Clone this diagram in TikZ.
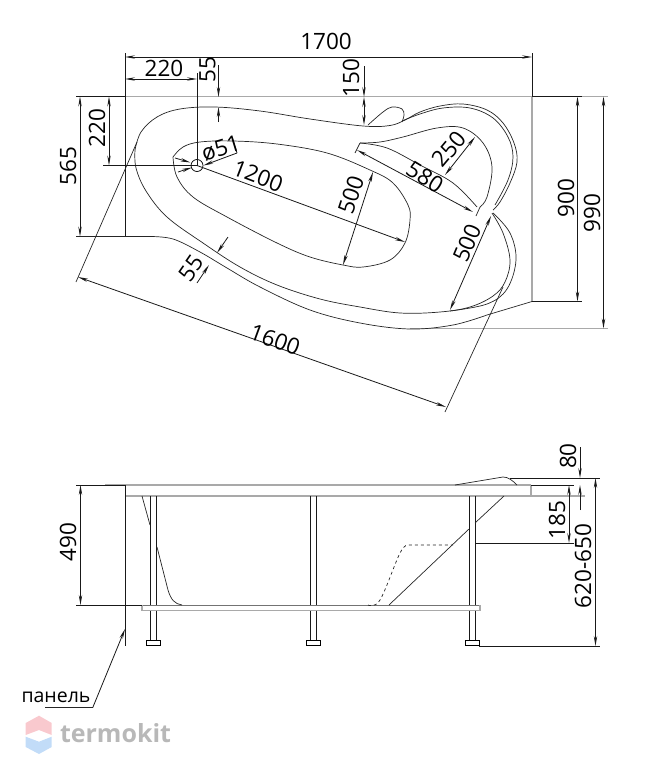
\documentclass[tikz,border=0pt]{standalone}
\usepackage{fontspec}
\setmainfont{Open Sans}
\usetikzlibrary{arrows.meta}
\definecolor{rimgray}{HTML}{A9A9A9}
\definecolor{markgray}{HTML}{B8B8B8}
\definecolor{logored}{HTML}{F9C9CE}
\definecolor{logoblue}{HTML}{C2DCF8}
\tikzset{
  contour/.style={line width=0.7pt, black!85},
  rim/.style={line width=1.5pt, rimgray},
  extline/.style={line width=0.8pt, black!90},
  dimline/.style={line width=0.8pt, black!90, {Stealth[length=10pt,width=3.4pt]}-{Stealth[length=10pt,width=3.4pt]}},
  dimend/.style={line width=0.8pt, black!90, -{Stealth[length=10pt,width=3.4pt]}},
  dimlabel/.style={inner sep=0pt, font=\fontsize{22.5}{22.5}\selectfont},
  smoothline/.style={smooth, tension=0.6}
}
\begin{document}
\begin{tikzpicture}[x=1pt, y=-1pt]
  \useasboundingbox (0,0) rectangle (647,779);

  % Plan: rim and frame
  \draw[rim] (125,96.5) -- (608,96.5);
  \draw[rim] (410,328.5) -- (608,328.5);
  \draw[rim] (532,96.5) -- (532,301.5);
  \draw[extline] (125,53) -- (125,236.5);
  \draw[extline] (532,53) -- (532,96.5);

  % Plan: outer contour
  \draw[contour] (76,236.5) -- (150,236.5) plot[smoothline] coordinates {(150,236.5) (173,239) (200,252) (227,268) (260,287) (310,310) (360,323) (410,329) (453,325) (487,315)} -- (532,301.5);

  % Plan: bath rim
  \draw[contour] plot[smoothline] coordinates {(135,150) (141,132) (157,117) (180,109) (215,107) (260,111) (310,119) (363,126) (390,125.5) (405,120) (420,112) (440,106) (463,104) (487,110) (503,123) (514,143) (517,162) (510,183) (500,202) (493,210)};
  \draw[contour] plot[smoothline] coordinates {(402,121) (420,114) (443,108) (470,108) (493,118) (508,137) (513,157) (508,180) (495,205)};
  \draw[contour] plot[smoothline] coordinates {(135,150) (136,168) (146,191) (167,217) (203,243) (240,267) (277,285) (320,299) (360,307) (400,313) (440,312) (470,307) (493,296) (505,282) (510,260) (503,233) (492,213)};
  \draw[contour] plot[smoothline] coordinates {(450,311) (487,304) (507,289) (516,260) (510,233) (493,213)};
  \draw[contour] plot[smoothline] coordinates {(368,125) (383,112) (392,107) (402,109) (404,115) (402,122)};

  % Plan: wells
  \draw[contour] plot[smoothline] coordinates {(173,157) (183,147) (200,142) (233,141) (277,144) (327,153) (370,170) (393,183) (408,205) (410,220) (405,243) (390,260) (363,267) (343,265) (310,257) (277,243) (227,217) (193,197) (177,177) (173,157)};
  \draw[contour] plot[smoothline] coordinates {(480,207) (487,197) (492,167) (483,143) (463,128) (437,128) (403,137) (380,142) (360,143)};
  \draw[contour] plot[smoothline] coordinates {(360,143) (387,148) (420,165) (453,183) (477,207)};
  \draw[contour] (480,207) -- (476,216);
  \draw[contour] (360,143) -- (355,153);

  % Plan: drain
  \node[draw, circle, line width=0.7pt, inner sep=0pt, minimum size=12pt] (drain) at (197,165.5) {};

  % Plan: dimensions
  \coordinate (w1) at (125,57); \coordinate (w2) at (532,57);
  \draw[dimline] (w1) -- (w2);
  \node[dimlabel] (lab1700) at (326,41) {1700};
  \coordinate (a1) at (125,79); \coordinate (a2) at (197,79);
  \draw[dimline] (a1) -- (a2);
  \node[dimlabel] (lab220a) at (164,68.5) {220};
  \coordinate (a3) at (197,73);
  \draw[extline] (a3) -- (drain.center);
  \coordinate (b0) at (103,165.5);
  \draw[extline] (b0) -- (drain.center);
  \coordinate (b1) at (109,96.5); \coordinate (b2) at (109,165.5);
  \draw[dimline] (b1) -- (b2);
  \node[dimlabel, rotate=90] (lab220b) at (97,128) {220};
  \coordinate (c0) at (76,96.5); \coordinate (c1) at (125,96.5);
  \draw[extline] (c0) -- (c1);
  \coordinate (c2) at (80,96.5); \coordinate (c3) at (80,236.5);
  \draw[dimline] (c2) -- (c3);
  \node[dimlabel, rotate=90] (lab565) at (68,166) {565};

  % 55 and 150 from the top edge
  \coordinate (d0) at (218.5,65); \coordinate (d1) at (218.5,97); \coordinate (d2) at (218.5,122); \coordinate (d3) at (218.5,107);
  \draw[dimend] (d0) -- (d1);
  \draw[dimend] (d2) -- (d3);
  \node[dimlabel, rotate=90] (lab55a) at (207.5,70) {55};
  \coordinate (e0) at (364,66); \coordinate (e1) at (364,97); \coordinate (e2) at (364,125);
  \draw[dimend] (e0) -- (e1);
  \draw[dimline] (e1) -- (e2);
  \node[dimlabel, rotate=90] (lab150) at (351,78) {150};

  % Diameter
  \coordinate (f0) at (237,153); \coordinate (f1) at (232,137); \coordinate (f2) at (175,158); \coordinate (f3) at (178,172); \coordinate (f4) at (190.5,162.5); \coordinate (f5) at (192,167.5);
  \draw[extline] (f1) -- (f0);
  \draw[dimend] (f0) -- (drain.east);
  \draw[dimend] (f2) -- (f4);
  \draw[dimend] (f3) -- (f5);
  \node[dimlabel, rotate=17] (lab51) at (221,148.5) {ø51};

  % Long axis
  \coordinate (g1) at (405,242);
  \draw[dimend] (drain.center) -- (g1);
  \node[dimlabel, rotate=-21] (lab1200) at (258,176) {1200};
  \coordinate (h1) at (373,172); \coordinate (h2) at (343,265);
  \draw[dimline] (h1) -- (h2);
  \node[dimlabel, rotate=72] (lab500a) at (351,195) {500};
  \coordinate (i1) at (475,137); \coordinate (i2) at (445,175);
  \draw[dimline] (i1) -- (i2);
  \node[dimlabel, rotate=50] (lab250) at (449,149) {250};
  \coordinate (j1) at (357,150); \coordinate (j2) at (473,212);
  \draw[dimline] (j1) -- (j2);
  \node[dimlabel, rotate=-32] (lab580) at (425,177) {580};
  \coordinate (k1) at (491,216); \coordinate (k2) at (450,310);
  \draw[dimline] (k1) -- (k2);
  \node[dimlabel, rotate=67] (lab500b) at (467,243) {500};
  \coordinate (m1) at (197,283); \coordinate (m2) at (209,265); \coordinate (m3) at (228,237); \coordinate (m4) at (217,253);
  \draw[dimend] (m1) -- (m2);
  \draw[dimend] (m3) -- (m4);
  \node[dimlabel, rotate=55] (lab55b) at (191,268) {55};

  % Diagonal
  \coordinate (n1) at (137,142); \coordinate (n2) at (76,282); \coordinate (n3) at (503,287); \coordinate (n4) at (445,412);
  \draw[contour] (n1) -- (n2);
  \draw[contour] (n3) -- (n4);
  \coordinate (n5) at (78,277); \coordinate (n6) at (446,407);
  \draw[dimline] (n5) -- (n6);
  \node[dimlabel, rotate=-20] (lab1600) at (275,340) {1600};

  % Right side of the plan
  \coordinate (p0) at (532,96.5); \coordinate (p1) at (582,96.5); \coordinate (p2) at (532,301.5); \coordinate (p3) at (582,301.5);
  \draw[extline] (p0) -- (p1);
  \draw[extline] (p2) -- (p3);
  \coordinate (q1) at (577.5,96.5); \coordinate (q2) at (577.5,301.5);
  \draw[dimline] (q1) -- (q2);
  \node[dimlabel, rotate=90] (lab900) at (566,198) {900};
  \coordinate (q3) at (603.5,96.5); \coordinate (q4) at (603.5,328.5);
  \draw[dimline] (q3) -- (q4);
  \node[dimlabel, rotate=90] (lab990) at (592,213) {990};

  % Elevation: rims
  \draw[rim] (105,485) -- (531,485);
  \draw[rim] (125,496) -- (585,496);
  \draw[rim] (531,485) -- (531,496);
  \draw[line width=1pt, black!55] (142,605) -- (480,605);
  \draw[rim, line width=1.2pt] (142,605) -- (142,610.5) -- (480,610.5) -- (480,605);
  \draw[extline] (125.5,485) -- (125.5,645.5);

  % Elevation: legs
  \foreach \legx/\legname in {150/lega, 310/legb, 469/legc} {
    \draw[extline] (\legx,496) -- (\legx,605) (\legx+6.5,496) -- (\legx+6.5,605);
    \draw[extline] (\legx,610.5) -- (\legx,640.7) (\legx+6.5,610.5) -- (\legx+6.5,640.7);
    \node[draw, line width=0.8pt, inner sep=0pt, minimum width=14.5pt, minimum height=5pt] (\legname) at (\legx+3.25,643.2) {};
  }

  % Elevation: bath profile
  \draw[contour] (142,496) -- (150,525);
  \draw[contour] (157,547) -- (168,590) .. controls (171,600) and (175,604) .. (182,605);
  \draw[contour, dashed] plot[smoothline] coordinates {(368,605) (380,600) (400,553) (408,545)} -- (453,545);
  \draw[contour] (389,605) -- (469,529);
  \draw[contour] (475,523) -- (504,496);
  \draw[contour] (455,485) -- (503,477) .. controls (508,477) and (512,480) .. (517,485);

  % Elevation: dimensions
  \coordinate (r0) at (76,485); \coordinate (r1) at (125.5,485); \coordinate (r2) at (76,605); \coordinate (r3) at (142,605);
  \draw[extline] (r0) -- (r1);
  \draw[extline] (r2) -- (r3);
  \coordinate (r4) at (80.5,485); \coordinate (r5) at (80.5,605);
  \draw[dimline] (r4) -- (r5);
  \node[dimlabel, rotate=90] (lab490) at (68,542) {490};

  \coordinate (s0) at (531,485); \coordinate (s1) at (574,485); \coordinate (s2) at (475.5,543); \coordinate (s3) at (574,543);
  \draw[extline] (s0) -- (s1);
  \draw[extline] (s2) -- (s3);
  \coordinate (s4) at (569,485); \coordinate (s5) at (569,543);
  \draw[dimline] (s4) -- (s5);
  \node[dimlabel, rotate=90] (lab185) at (557,520) {185};

  \coordinate (t0) at (510,478); \coordinate (t1) at (600,478); \coordinate (t2) at (479,646); \coordinate (t3) at (600,646);
  \draw[extline] (t0) -- (t1);
  \draw[extline] (t2) -- (t3);
  \coordinate (t4) at (595.5,478); \coordinate (t5) at (595.5,646);
  \draw[dimline] (t4) -- (t5);
  \node[dimlabel, rotate=90] (lab620) at (583,566) {620-650};

  \coordinate (u0) at (580,447); \coordinate (u1) at (580,478); \coordinate (u2) at (580,510); \coordinate (u3) at (580,485);
  \draw[dimend] (u0) -- (u1);
  \draw[dimend] (u2) -- (u3);
  \node[dimlabel, rotate=90] (lab80) at (568,456) {80};

  % Panel callout
  \node[inner sep=0pt, font=\fontsize{19.5}{19.5}\selectfont] (panel) at (56,697) {панель};
  \coordinate (v0) at (45,707.7); \coordinate (v1) at (92.7,707.7); \coordinate (v2) at (125,629);
  \draw[contour] (v0) -- (v1);
  \draw[dimend] (v1) -- (v2);

  % Watermark
  \fill[logored] (39,715.7) -- (51.7,723) -- (51.7,735) -- (39,730) -- (25.7,735) -- (25.7,723) -- cycle;
  \fill[logoblue] (25.7,736.7) -- (39,741.7) -- (51.7,736.7) -- (51.7,747) -- (39,754) -- (25.7,747) -- cycle;
  \node[inner sep=0pt, text=markgray, font=\fontsize{25}{25}\selectfont\bfseries] (mark) at (115.5,733) {termokit};
\end{tikzpicture}
\end{document}
